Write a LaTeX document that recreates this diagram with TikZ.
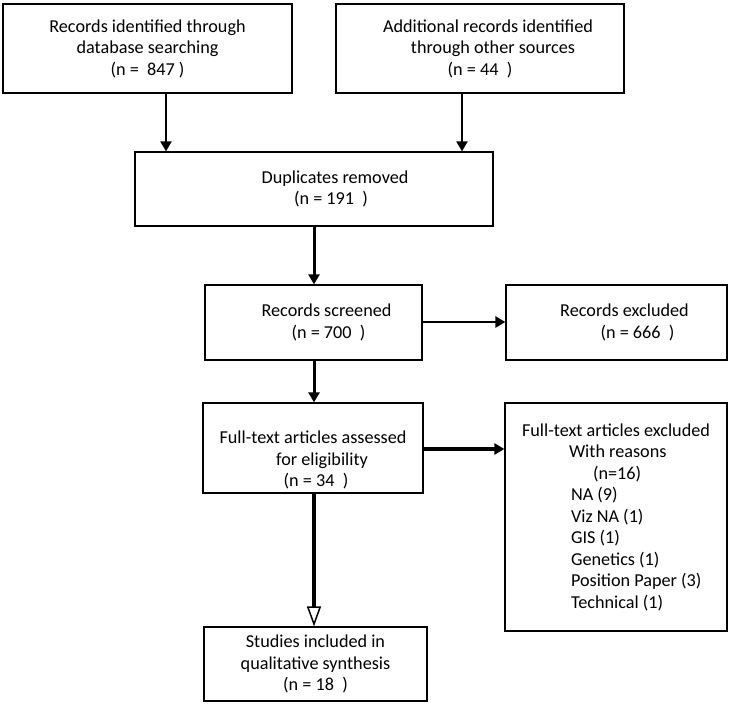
\documentclass[tikz,border=0pt]{standalone}
\usepackage{fontspec}
\setmainfont{Carlito}
\usetikzlibrary{arrows.meta}

\begin{document}
\begin{tikzpicture}[x=1pt,y=-1pt,
    box/.style={draw, line width=1.2pt, align=center, inner sep=0pt,
        font=\fontsize{18.2}{21.5}\selectfont},
    arr/.style={line width=2pt, -{Triangle[width=11pt,length=10pt]}}]
    \useasboundingbox (0,0) rectangle (732,707);

    \node[box, minimum width=289pt, minimum height=89pt] at (147.5,48.5) (db)
        {Records identified through\\database searching\\(n =~ 847 )};
    \node[box, minimum width=288pt, minimum height=89pt] at (480,48.5) (other)
        {\hspace*{16pt}Additional records identified\\\hspace*{26pt}through other sources\\(n = 44~ )};
    \node[box, minimum width=358pt, minimum height=74pt] at (314,189) (dup)
        {\hspace*{42pt}Duplicates removed\\\hspace*{34pt}(n = 191~ )};
    \node[box, minimum width=217pt, minimum height=75pt] at (313.5,322.5) (screen)
        {\hspace*{26pt}Records screened\\\hspace*{30pt}(n = 700~ )};
    \node[box, minimum width=221pt, minimum height=75pt] at (616.5,322.5) (excl)
        {\hspace*{16pt}Records excluded\\\hspace*{42pt}(n = 666~ )};
    \node[box, minimum width=220pt, minimum height=90pt, text height=80pt] at (313,448) (full)
        {Full-text articles assessed\\\hspace*{18pt}for eligibility\\\hspace*{6pt}(n = 34~ )};
    \node[box, minimum width=222pt, minimum height=228pt, align=left] at (616,517) (fullex)
        {Full-text articles excluded\\
         \hspace*{47pt}With reasons\\
         \hspace*{71pt}(n=16)\\
         \hspace*{49pt}NA (9)\\
         \hspace*{49pt}Viz NA (1)\\
         \hspace*{49pt}GIS (1)\\
         \hspace*{49pt}Genetics (1)\\
         \hspace*{49pt}Position Paper (3)\\
         \hspace*{49pt}Technical (1)};
    \node[box, minimum width=223pt, minimum height=74pt] at (315.5,664) (incl)
        {Studies included in\\qualitative synthesis\\(n = 18~ )};

    \draw[arr] (db.south -| 166,0) -- (dup.north -| 166,0);
    \draw[arr] (other.south -| 462,0) -- (dup.north -| 462,0);
    \draw[arr, line width=3pt] (dup.south -| 314,0) -- (screen.north -| 314,0);
    \draw[arr, line width=2.5pt] (screen.east |- 0,322) -- (excl.west |- 0,322);
    \draw[arr, line width=3pt] (screen.south -| 314,0) -- (full.north -| 314,0);
    \draw[arr, line width=4pt] (full.east |- 0,449) -- (fullex.west |- 0,449);
    \draw[line width=4pt, -{Triangle[open,width=14pt,length=20pt,line width=1.5pt]}] (full.south -| 314,0) -- (incl.north -| 314,0);
\end{tikzpicture}
\end{document}
